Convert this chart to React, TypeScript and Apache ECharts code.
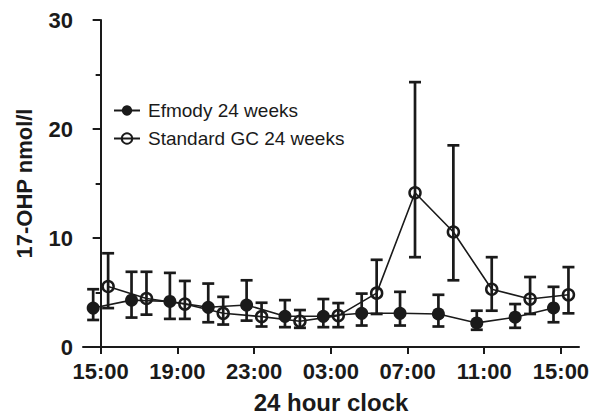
import React, { useEffect, useRef } from "react";
import * as echarts from "echarts";

// Sampling times, hours after 15:00
const sampleHours = [0, 2, 4, 6, 8, 10, 12, 14, 16, 18, 20, 22, 24];
const tickHours = [0, 4, 8, 12, 16, 20, 24];
const tickLabels = ["15:00", "19:00", "23:00", "03:00", "07:00", "11:00", "15:00"];

const efmodyMean = [3.57, 4.3, 4.18, 3.64, 3.85, 2.82, 2.82, 3.09, 3.09, 3.03, 2.21, 2.73, 3.58];
const efmodyUpper = [5.3, 6.9, 6.8, 5.82, 6.12, 4.3, 4.4, 4.9, 5.06, 4.79, 3.33, 3.94, 5.52];
const efmodyLower = [2.48, 2.7, 2.58, 2.27, 2.42, 1.82, 1.82, 1.97, 1.97, 1.88, 1.58, 1.76, 2.27];

const standardMean = [5.55, 4.45, 3.94, 3.09, 2.79, 2.36, 2.88, 4.94, 14.15, 10.55, 5.3, 4.4, 4.79];
const standardUpper = [8.6, 6.9, 6.06, 4.6, 4.06, 3.39, 4.03, 8.0, 24.3, 18.5, 8.24, 6.42, 7.33];
const standardLower = [3.57, 2.97, 2.58, 2.06, 1.88, 1.76, 1.82, 3.03, 8.24, 6.12, 3.33, 3.03, 3.09];

const DODGE = 0.39; // horizontal offset (hours) so the groups do not overlap
const INK = "#1a1a1a";
const FONT = "'Liberation Sans', Arial, Helvetica, sans-serif";

export default function App() {
  const ref = useRef<HTMLDivElement>(null);

  useEffect(() => {
    if (!ref.current) return;
    const chart = echarts.init(ref.current, undefined, { renderer: "svg" });

    const efX = sampleHours.map((h) => h - DODGE);
    const stX = sampleHours.map((h) => h + DODGE);

    const errRender = (params: any, api: any) => {
      const x = api.value(0);
      const lo = api.coord([x, api.value(1)]);
      const hi = api.coord([x, api.value(2)]);
      const hw = 6;
      const style = { stroke: INK, lineWidth: 2.7 };
      return {
        type: "group",
        children: [
          { type: "line", shape: { x1: lo[0], y1: lo[1], x2: hi[0], y2: hi[1] }, style },
          { type: "line", shape: { x1: lo[0] - hw, y1: lo[1], x2: lo[0] + hw, y2: lo[1] }, style },
          { type: "line", shape: { x1: hi[0] - hw, y1: hi[1], x2: hi[0] + hw, y2: hi[1] }, style },
        ],
      };
    };

    chart.setOption({
      animation: false,
      backgroundColor: "#ffffff",
      grid: { left: 83, right: 20, top: 20, bottom: 69, containLabel: false },
      legend: {
        orient: "vertical",
        left: 108,
        top: 96,
        itemWidth: 26,
        itemHeight: 13,
        itemGap: 9,
        data: ["Efmody 24 weeks", "Standard GC 24 weeks"],
        textStyle: { color: INK, fontSize: 19, fontFamily: FONT, padding: [0, 0, 0, 3] },
      },
      xAxis: {
        type: "value",
        min: -0.92,
        max: 24.94,
        name: "24 hour clock",
        nameLocation: "middle",
        nameGap: 43,
        nameTextStyle: { color: INK, fontSize: 24, fontWeight: "bold", fontFamily: FONT },
        axisLine: { show: true, onZero: false, lineStyle: { color: INK, width: 2 } },
        axisTick: { show: true, length: 7, lineStyle: { color: INK, width: 2 }, customValues: tickHours },
        axisLabel: {
          color: INK,
          fontSize: 22,
          fontWeight: "bold",
          fontFamily: FONT,
          margin: 13,
          customValues: tickHours,
          formatter: (v: number) => tickLabels[tickHours.indexOf(Math.round(v))] ?? "",
        },
        splitLine: { show: false },
      },
      yAxis: {
        type: "value",
        min: 0,
        max: 30,
        interval: 10,
        name: "17-OHP nmol/l",
        nameLocation: "middle",
        nameGap: 48,
        nameRotate: 90,
        nameTextStyle: { color: INK, fontSize: 22, fontWeight: "bold", fontFamily: FONT },
        axisLine: { show: true, lineStyle: { color: INK, width: 2 } },
        axisTick: { show: true, length: 8, lineStyle: { color: INK, width: 2 } },
        minorTick: { show: true, splitNumber: 2, length: 5, lineStyle: { color: INK, width: 2 } },
        axisLabel: { color: INK, fontSize: 22, fontWeight: "bold", fontFamily: FONT, margin: 10 },
        splitLine: { show: false },
      },
      series: [
        {
          type: "custom",
          name: "efErr",
          renderItem: errRender,
          encode: { x: 0, y: [1, 2] },
          data: efX.map((x, i) => [x, efmodyLower[i], efmodyUpper[i]]),
          z: 1,
        },
        {
          type: "custom",
          name: "stErr",
          renderItem: errRender,
          encode: { x: 0, y: [1, 2] },
          data: stX.map((x, i) => [x, standardLower[i], standardUpper[i]]),
          z: 1,
        },
        {
          type: "line",
          name: "Efmody 24 weeks",
          data: efX.map((x, i) => [x, efmodyMean[i]]),
          symbol: "circle",
          symbolSize: 13,
          lineStyle: { color: INK, width: 1.6 },
          itemStyle: { color: INK, borderWidth: 0 },
          z: 3,
        },
        {
          type: "line",
          name: "Standard GC 24 weeks",
          data: stX.map((x, i) => [x, standardMean[i]]),
          symbol: "circle",
          symbolSize: 11,
          lineStyle: { color: INK, width: 1.6 },
          itemStyle: { color: "rgba(0,0,0,0)", borderColor: INK, borderWidth: 2.5 },
          z: 3,
        },
      ],
    });

    return () => chart.dispose();
  }, []);

  return (
    <div
      ref={ref}
      style={{ position: "fixed", left: 0, top: 0, width: 599, height: 419, background: "#fff" }}
    />
  );
}
